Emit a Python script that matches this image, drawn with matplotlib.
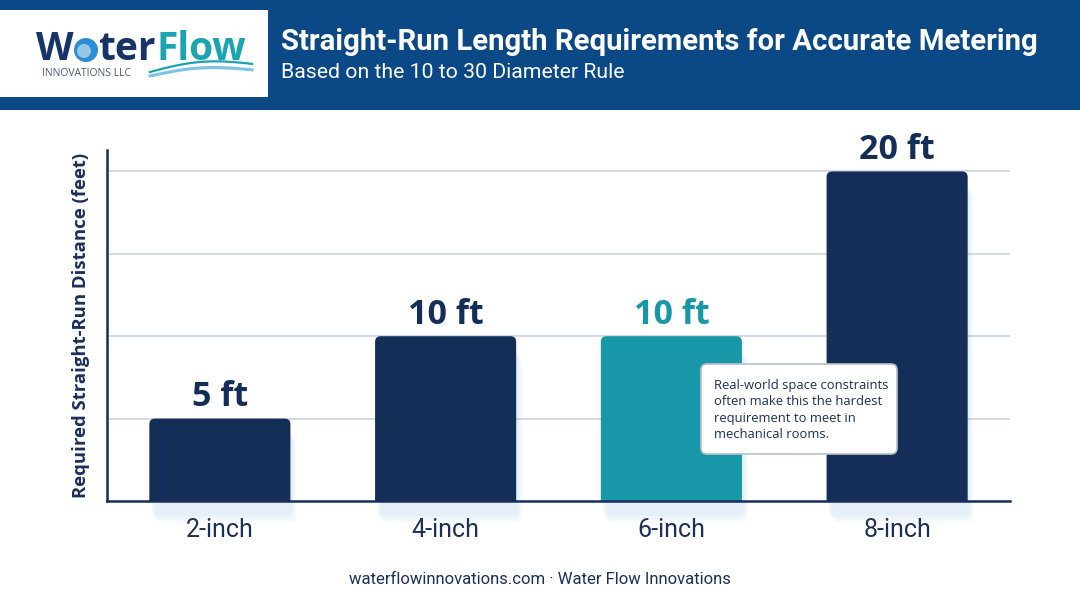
import numpy as np
import matplotlib.pyplot as plt
from matplotlib.patches import FancyBboxPatch, Rectangle, Circle

# data
pipe_sizes = ["2-inch", "4-inch", "6-inch", "8-inch"]
straight_run_ft = [5, 10, 10, 20]
highlight = [False, False, True, False]
note_text = ("Real-world space constraints\noften make this the hardest\n"
             "requirement to meet in\nmechanical rooms.")

NAVY = "#152e58"
TEAL = "#1797a8"
HEADER = "#0b4886"
TXT = "#1b2f5b"

W, H = 1080, 603
fig = plt.figure(figsize=(W / 100, H / 100), dpi=100)
fig.patch.set_facecolor("white")

# overlay in pixel coords for header / footer decorations
deco = fig.add_axes([0, 0, 1, 1], zorder=0)
deco.set_xlim(0, W)
deco.set_ylim(H, 0)
deco.axis("off")

deco.add_patch(Rectangle((0, 0), W, 110, color=HEADER, lw=0))
deco.add_patch(Rectangle((0, 10), 268, 87, color="white", lw=0))

# logo
deco.text(36, 50, "W", fontsize=28, fontweight="bold", color="#16346a",
          family="Open Sans", va="center", ha="left")
deco.add_patch(Circle((86, 50), 12, color="#2a8fd0", lw=0))
deco.add_patch(Circle((84, 51), 7, color="white", lw=0, alpha=0.5))
deco.text(98, 50, "ter", fontsize=28, fontweight="bold", color="#16346a",
          family="Open Sans", va="center", ha="left")
deco.text(156, 50, "Flow", fontsize=28, fontweight="bold", color="#1aa3b0",
          family="Open Sans", va="center", ha="left")
deco.text(42, 74, "INNOVATIONS LLC", fontsize=7.5, color="#4a5a75",
          family="Open Sans", va="center", ha="left")
wx = np.linspace(150, 252, 60)
deco.plot(wx, 76 - 5 * np.sin((wx - 150) / 102 * np.pi) + (wx - 150) * -0.06,
          color="#7cc3e6", lw=2.2)
deco.plot(wx, 72 - 6 * np.sin((wx - 150) / 102 * np.pi) + (wx - 150) * -0.08,
          color="#1aa3b0", lw=1.6)

deco.text(281, 42, "Straight-Run Length Requirements for Accurate Metering",
          fontsize=21.2, fontweight="bold", color="white", family="Roboto",
          va="center", ha="left")
deco.text(281, 73, "Based on the 10 to 30 Diameter Rule", fontsize=15.3,
          color="white", family="Roboto", va="center", ha="left")

deco.text(540, 579, "waterflowinnovations.com \u00b7 Water Flow Innovations",
          fontsize=12, color=TXT, family="Roboto", va="center", ha="center")

# main chart
ax = fig.add_axes([107 / W, (H - 501) / H, (1010 - 107) / W, (501 - 150) / H],
                  zorder=2)
ax.patch.set_alpha(0)
x = np.arange(len(pipe_sizes))
ax.set_xlim(-0.5, 3.5)
ax.set_ylim(0, 21.3)

bars = ax.bar(x, straight_run_ft, width=0.625, alpha=0)
for b, hl, v in zip(bars, highlight, straight_run_ft):
    c = TEAL if hl else NAVY
    bx, bw = b.get_x(), b.get_width()
    # soft shadow
    for k, a in enumerate([0.08, 0.06, 0.05]):
        ax.add_patch(FancyBboxPatch((bx + 0.01 + k * 0.008, -0.9 - k * 0.2),
                                    bw, v, boxstyle="round,pad=0,rounding_size=0.03",
                                    mutation_aspect=13.7, color="#6fa6de",
                                    alpha=a, lw=0, clip_on=False, zorder=1))
    ax.add_patch(FancyBboxPatch((bx, -1), bw, v + 1,
                                boxstyle="round,pad=0,rounding_size=0.025",
                                mutation_aspect=13.7, color=c, lw=0, zorder=3))
    ax.annotate(f"{v} ft", (b.get_x() + bw / 2, v), xytext=(0, 3),
                textcoords="offset points", ha="center", va="bottom",
                fontsize=24.5, fontweight="bold", family="Open Sans",
                color=c, zorder=4)

ax.set_yticks([5, 10, 15, 20])
ax.yaxis.grid(True, color="#c9d0dc", lw=1.1)
ax.set_axisbelow(True)
ax.tick_params(axis="y", length=0, labelleft=False)
ax.set_xticks(x)
ax.set_xticklabels(pipe_sizes, fontsize=18, family="Roboto", color=TXT)
ax.tick_params(axis="x", length=0, pad=12)
for s in ["top", "right"]:
    ax.spines[s].set_visible(False)
for s in ["left", "bottom"]:
    ax.spines[s].set_color(NAVY)
    ax.spines[s].set_linewidth(1.8)
    ax.spines[s].set_zorder(5)
ax.set_ylabel("Required Straight-Run Distance (feet)", fontsize=13.3,
              fontweight="bold", family="Open Sans", color=TXT, labelpad=12)

# callout
deco2 = fig.add_axes([0, 0, 1, 1], zorder=3)
deco2.set_xlim(0, W)
deco2.set_ylim(H, 0)
deco2.axis("off")
deco2.add_patch(FancyBboxPatch((701, 364), 196, 90,
                               boxstyle="round,pad=0,rounding_size=6",
                               facecolor="white", edgecolor="#b8c0cc", lw=1.2))
deco2.text(714, 410, note_text, fontsize=9.4, color=TXT, family="Open Sans",
           va="center", ha="left", linespacing=1.32)

fig.savefig("out.png", dpi=100)
